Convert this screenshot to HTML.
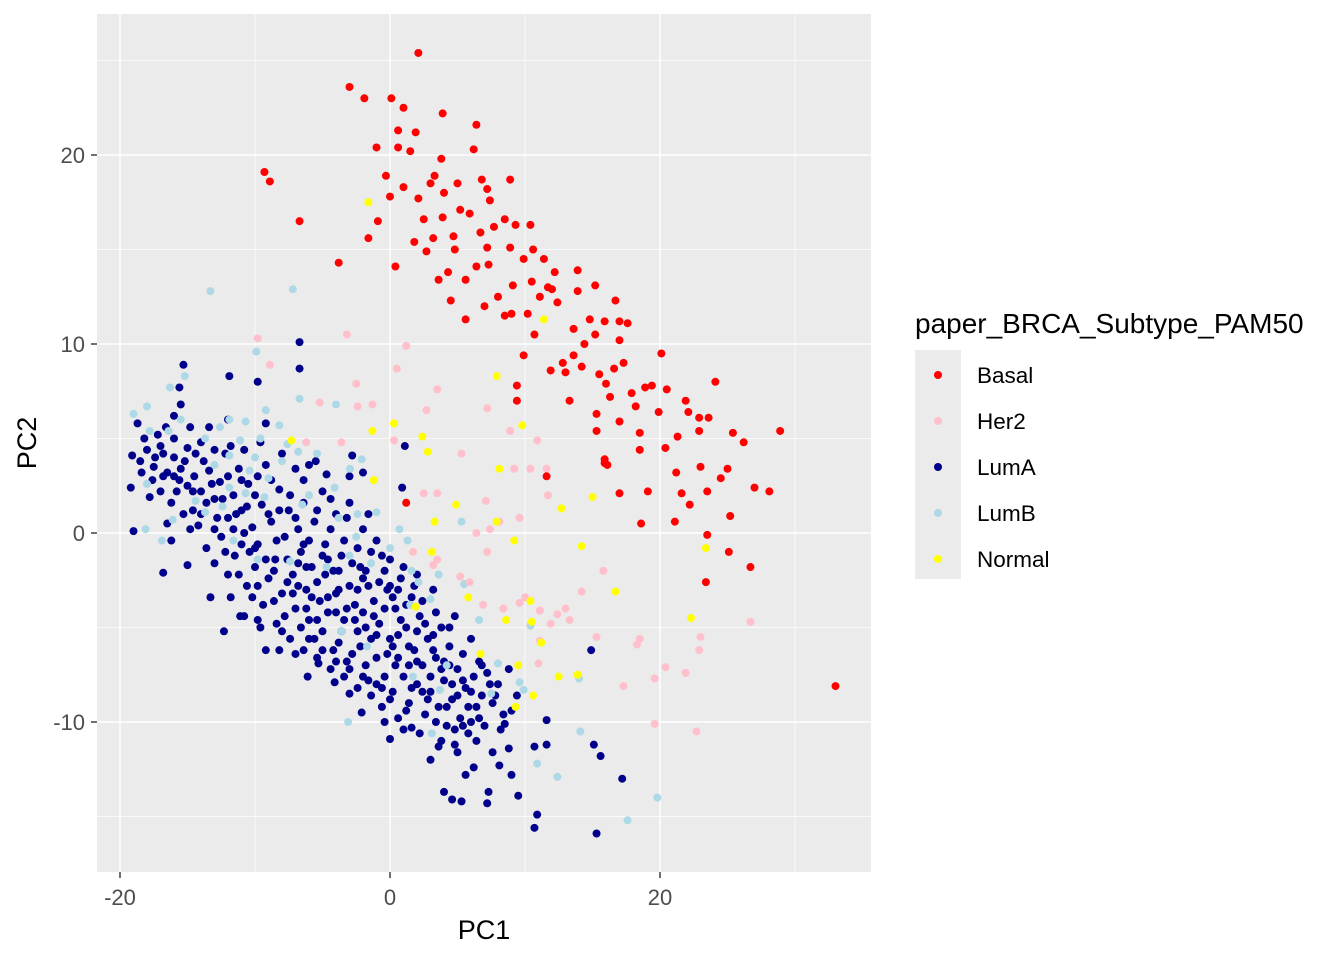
<!DOCTYPE html>
<html><head><meta charset="utf-8"><style>
html,body{margin:0;padding:0;background:#fff;}
svg{display:block;font-family:"Liberation Sans",Arial,sans-serif;}
</style></head><body>
<svg id="chart" width="1344" height="960">
<rect x="97" y="14" width="774" height="858" fill="#EBEBEB"/>
<g id="grid"></g>
<g id="points"></g>
<g id="axes"></g>
<text x="484" y="939" font-size="27" text-anchor="middle" fill="#000">PC1</text>
<text transform="translate(36,443) rotate(-90)" font-size="27" text-anchor="middle" fill="#000">PC2</text>
<g>
<text x="915" y="333" font-size="28" fill="#000">paper_BRCA_Subtype_PAM50</text>
<rect x="915" y="350" width="46" height="229" fill="#EBEBEB"/>
<g id="legend-entries"></g>
</g>
</svg>
<script>
const xTicks=[-20,0,20];
const xMinor=[-10,10,30];
const yTicks=[-10,0,10,20];
const yMinor=[-15,-5,5,15,25];
const categories=["Basal","Her2","LumA","LumB","Normal"];
const colors=["#FF0000","#FFC0CB","#00008B","#ADD8E6","#FFFF00"];
const basalPts=[[2.1,25.4],[-3.0,23.6],[-1.9,23.0],[0.1,23.0],[1.0,22.5],[3.9,22.2],[6.4,21.6],[1.9,21.2],[0.6,21.3],[-1.0,20.4],[0.6,20.4],[1.5,20.2],[3.8,19.8],[6.2,20.3],[-9.3,19.1],[-8.9,18.6],[-0.3,18.9],[3.3,18.9],[5.0,18.5],[6.8,18.7],[8.9,18.7],[7.2,18.2],[0,17.8],[2.1,17.7],[1.0,18.3],[3.0,18.5],[4.0,18.0],[7.4,17.6],[5.9,16.9],[5.2,17.1],[2.5,16.6],[3.9,16.7],[-0.9,16.5],[-6.7,16.5],[8.5,16.6],[9.3,16.3],[10.4,16.3],[7.7,16.2],[6.7,15.9],[4.7,15.7],[3.2,15.6],[1.8,15.4],[-1.6,15.6],[0.4,14.1],[-3.8,14.3],[2.7,14.9],[4.8,15.0],[7.2,15.1],[8.9,15.1],[10.6,15.0],[9.9,14.5],[11.4,14.5],[6.4,14.1],[4.3,13.8],[3.6,13.4],[5.6,13.4],[7.3,14.2],[9.1,13.1],[10.5,13.3],[12.2,13.8],[13.9,13.9],[11.7,13.0],[11.1,12.5],[12.4,12.2],[13.9,12.8],[15.2,13.1],[10.2,11.6],[8.5,11.5],[9.0,11.6],[5.6,11.3],[7.0,12.0],[4.5,12.3],[16.7,12.3],[14.8,11.3],[15.9,11.2],[17.0,11.2],[17.6,11.1],[13.6,10.8],[15.2,10.5],[17.0,10.2],[10.7,10.5],[9.9,9.4],[14.4,10.0],[13.6,9.4],[12.8,9.0],[11.9,8.6],[13.0,8.5],[14.2,8.8],[15.5,8.4],[16.6,8.7],[17.3,9.0],[20.1,9.5],[16.0,7.9],[17.9,7.4],[18.9,7.7],[19.4,7.8],[20.5,7.6],[24.1,8.0],[13.3,7.0],[16.3,7.2],[18.2,6.7],[19.9,6.4],[21.9,7.0],[22.1,6.4],[22.9,6.1],[23.6,6.1],[15.3,6.3],[17.0,5.9],[15.3,5.4],[18.5,5.3],[21.3,5.1],[22.9,5.4],[25.4,5.3],[26.2,4.8],[28.9,5.4],[20.4,4.5],[18.5,4.4],[15.9,3.9],[21.2,3.2],[23.0,3.5],[25.0,3.4],[11.6,3.0],[21.6,2.1],[23.5,2.2],[24.5,2.9],[27.0,2.4],[28.1,2.2],[17.0,2.1],[19.1,2.2],[22.2,1.5],[25.2,0.9],[18.6,0.5],[21.1,0.6],[23.5,-0.1],[25.1,-1.0],[26.7,-1.8],[23.4,-2.6],[33.0,-8.1],[1.2,1.6],[9.4,7.8],[9.4,7.0],[15.9,3.7],[16.1,3.6],[12.0,12.9],[8.0,12.5]];
const her2Pts=[[-9.8,10.3],[-3.2,10.5],[1.2,9.9],[-8.9,8.9],[0.5,8.7],[-2.5,7.9],[3.5,7.6],[7.2,6.6],[2.7,6.5],[-5.2,6.9],[-2.4,6.7],[-1.3,6.8],[8.9,5.4],[10.9,4.9],[-3.6,4.8],[-6.2,4.8],[0.3,4.9],[5.3,4.2],[9.2,3.4],[11.6,3.4],[10.4,3.4],[3.5,2.1],[2.5,2.1],[11.7,2.0],[9.6,0.8],[8.1,0.6],[7.4,0.2],[6.4,0],[7.2,-1.0],[1.7,-1.0],[3.2,-1.7],[5.9,-2.6],[6.9,-3.8],[9.6,-3.7],[11.1,-4.1],[12.4,-4.3],[13.3,-4.6],[14.2,-3.1],[11.9,-4.8],[15.3,-5.5],[18.5,-5.6],[18.3,-5.9],[23.0,-5.5],[22.9,-6.2],[20.4,-7.1],[21.9,-7.4],[19.6,-7.7],[17.3,-8.1],[19.6,-10.1],[22.7,-10.5],[26.7,-4.7],[15.8,-2.0],[7.1,1.7],[11.0,-6.9],[11.1,-5.7],[3.5,-1.4],[5.2,-2.3],[13.0,-4.0],[8.4,-4.0],[10.0,-3.4]];
const lumAPts=[[-15.3,8.9],[-11.9,8.3],[-15.6,7.7],[-9.8,8.0],[-6.7,8.7],[-15.5,6.8],[-18.7,5.8],[-16.6,5.6],[-19.1,4.1],[-19.2,2.4],[-19.0,0.1],[-16.8,-2.1],[-15.0,-1.7],[-13.3,-3.4],[-12.3,-5.2],[-11.1,-4.4],[-9.8,-4.6],[-9.2,-6.2],[-8.2,-6.2],[-6.1,-7.6],[-5.3,-6.9],[-4.1,-7.9],[-3.0,-8.5],[-2.1,-9.5],[0,-10.9],[1.6,-10.3],[3.6,-11.3],[4.8,-11.2],[4.0,-13.7],[4.6,-14.1],[5.3,-14.2],[5.6,-12.8],[7.3,-13.7],[8.1,-12.3],[9.0,-12.8],[9.5,-13.9],[10.7,-11.3],[11.6,-11.2],[10.9,-14.9],[10.7,-15.6],[15.3,-15.9],[15.1,-11.2],[15.6,-11.8],[17.2,-13.0],[14.9,-6.2],[8.8,-11.4],[8.5,-10.1],[11.6,-9.9],[0.9,2.4],[1.1,4.6],[-2.8,4.1],[-5.5,3.8],[-4.7,3.1],[-6.7,10.1],
[-18.5,3.8],[-18,4.4],[-17.5,3.5],[-17,4.6],[-16.5,3.2],[-16,4.0],[-15.5,3.4],[-15,2.5],[-17.8,1.9],[-17,2.2],[-16.2,1.6],[-15.6,2.8],[-15,4.5],[-14.5,3.0],[-14,2.2],[-14.6,1.2],[-15.3,1.0],[-16.5,0.5],[-14,4.8],[-14.2,0.4],[-13.6,-0.8],[-13,1.8],[-13.4,3.3],[-12.6,2.7],[-12.2,4.2],[-12,0.8],[-11.6,2.0],[-11.2,3.4],[-11,-0.6],[-12.5,-0.2],[-13,-1.6],[-12,-2.2],[-11.5,-1.2],[-11,1.2],[-10.5,2.6],[-10.2,0.3],[-10,-1.8],[-10.6,-2.8],[-9.8,-0.6],[-9.5,1.5],[-9.2,3.6],[-9,-2.4],[-8.8,0.6],[-8.5,-1.4],[-8.2,2.3],[-8,-3.2],[-7.8,-0.2],[-7.5,1.2],[-7.2,-2.2],[-7,-4.0],[-6.8,0.2],[-6.6,-1.0],[-6.4,2.8],[-6.2,-3.0],[-6,-4.6],[-5.8,-1.8],[-5.6,0.6],[-5.4,-2.6],[-5.2,-3.6],[-5,-5.2],[-4.8,-0.6],[-4.6,-4.2],[-4.4,1.8],[-4.2,-2.0],[-4,-3.2],[-3.8,-5.8],[-3.6,-1.2],[-3.4,-4.6],[-3.2,0.8],[-3,-2.8],[-2.8,-6.4],[-2.6,-3.8],[-2.4,-5.2],[-2.2,-1.8],[-2,-4.2],[-1.8,-7.0],[-1.6,-2.8],[-1.4,-5.6],[-1.2,-3.6],[-1,-6.6],[-0.8,-4.8],[-0.6,-1.2],[-0.4,-7.6],[-0.2,-3.0],[0,-5.6],[0.2,-8.4],[0.4,-4.0],[0.6,-6.6],[0.8,-2.4],[1,-7.6],[1.2,-5.0],[1.4,-9.0],[1.6,-3.4],[1.8,-6.2],[2,-8.0],[2.2,-4.4],[2.4,-7.0],[2.6,-9.6],[2.8,-5.6],[3,-8.4],[3.2,-3.0],[3.4,-6.6],[3.6,-9.2],[3.8,-5.0],[4,-7.8],[4.2,-10.2],[4.4,-6.0],[4.6,-8.8],[4.8,-4.4],[5,-7.2],[5.2,-9.8],[5.4,-6.4],[5.6,-8.2],[5.8,-10.6],[6,-5.6],[6.2,-7.6],[6.4,-9.2],[6.6,-6.8],[6.8,-8.6],[7,-10.2],[7.2,-7.4],[7.6,-9.0],[8,-8.0],[8.4,-9.6],[8.8,-7.2],[9.4,-8.6],[-17.2,5.2],[-16,5.0],[-14.8,5.6],[-13.8,3.8],[-10.8,4.4],[-9.6,4.8],[-8,4.2],[-7,3.4],[-6,3.6],[-5,2.2],[-4,1.0],[-3,1.6],[-2,0.2],[-1,-0.4],[0,-1.4],[1,-1.8],[2,-2.2],[-11.8,-3.4],[-10.8,-4.4],[-9.4,-3.8],[-8.4,-4.8],[-7.4,-5.6],[-6.4,-6.2],[-5.4,-6.6],[-4.4,-7.2],[-3.4,-7.6],[-2.4,-8.2],[-1.4,-8.6],[-0.6,-9.2],[0.6,-9.8],[-8.6,-2.0],[-7.6,-1.4],[-6.8,-2.8],[-5.8,-3.4],[-4.8,-2.2],[-3.8,-3.0],[-2.8,-1.6],[-1.8,-2.0],[-0.8,-2.6],[0.2,-3.4],[1.2,-3.8],[2.4,-3.6],[3.4,-4.2],[4.4,-5.0],[-6,-0.4],[-7,0.8],[-9,1.0],[-10,2.0],[-11,2.8],[-12,3.0],[-13,4.4],[-3.6,-5.2],[-2.2,-6.0],[-0.2,-6.4],[1.4,-7.0],[3,-7.6],[4.6,-8.0],[6,-8.4],[2.2,-10.6],[1,-10.4],[3.8,-11.0],[5,-11.6],[6.4,-11.0],[7.6,-11.6],[-1.6,1.0],[-3,3.0],[-2,3.2],
[-8.6,-3.6],[-7.8,-4.4],[-6.6,-5.0],[-5.6,-5.6],[-4.2,-6.2],[-3.2,-6.8],[-1.6,-7.8],[-0.6,-8.2],[0.4,-7.0],[1.6,-8.2],[2.8,-8.8],[4.2,-9.2],[5.4,-10.2],[-9.8,-2.8],[-10.4,-1.0],[-11.6,0.2],[-12.8,0.8],[-13.6,1.6],[-14.6,2.2],[-15.8,2.2],[-16.8,3.0],[-17.6,2.8],[-18.4,3.2],[-16.2,-0.4],[-14.8,0.2],[-7.2,-3.2],[-6.2,-1.8],[-5.0,-1.2],[-4.0,-4.2],[-2.6,-4.6],[-1.2,-4.4],[0.6,-5.4],[2.0,-5.2],[3.2,-6.2],[4.0,-6.8],[5.4,-7.8],[6.8,-7.0],[7.8,-8.6],[-0.4,-10.0],[3.0,-12.0],[6.2,-12.4],[7.2,-14.3],[-9.2,5.8],[-12.0,6.0],[-8.8,2.8],
[-18.2,5.0],[-17.4,4.0],[-16.8,4.2],[-16.0,3.0],[-15.2,3.8],[-14.4,4.2],[-13.2,2.6],[-12.4,1.8],[-11.4,1.0],[-10.8,0.0],[-10.0,-0.8],[-9.2,-1.4],[-8.4,-0.4],[-7.6,-2.6],[-6.8,-1.6],[-6.2,-4.0],[-5.4,-4.6],[-4.6,-3.4],[-3.8,-2.0],[-3.2,-4.0],[-2.4,-3.0],[-1.8,-5.0],[-1.0,-5.4],[-0.4,-4.0],[0.2,-6.0],[0.8,-4.6],[1.4,-6.0],[2.0,-6.8],[2.6,-4.8],[3.2,-5.4],[3.8,-7.2],[4.4,-7.0],[5.0,-8.6],[5.8,-9.2],[6.6,-9.8],[7.4,-8.0],[8.2,-10.4],[9.0,-9.4],[-14.0,1.0],[-13.0,0.2],[-12.2,-1.0],[-11.2,-2.2],[-10.2,-3.4],[-9.6,-5.0],[-8.0,-5.2],[-7.0,-6.4],[-6.0,-5.6],[-5.0,-6.2],[-4.0,-6.8],[-3.0,-7.2],[-2.0,-7.6],[-1.0,-8.0],[0.0,-8.8],[1.2,-9.4],[2.4,-8.4],[3.4,-10.0],[4.8,-10.4],[6.0,-10.0],[-7.4,2.0],[-6.4,1.6],[-5.4,1.2],[-4.4,0.2],[-3.4,-0.4],[-2.4,-0.8],[-1.4,-1.0],[-0.4,-2.0],[0.6,-3.0],[1.8,-2.8],[-9.8,3.0],[-11.8,4.6],[-13.4,5.6],[-16.0,6.2],[-10.6,1.4],[-8.2,1.2],[-6.4,-0.6],[-4.6,-1.4],[-2.0,-2.4],[0.0,-2.8]];
const lumBPts=[[-13.3,12.8],[-7.2,12.9],[-9.9,9.6],[-15.2,8.3],[-16.3,7.7],[-6.7,7.1],[-19.0,6.3],[-18.0,6.7],[-15.5,6.0],[-11.9,6.0],[-10.7,5.9],[-9.2,6.5],[-8.2,5.7],[-4.0,6.8],[-17.8,5.4],[-16.4,5.4],[-13.7,5.0],[-11.1,4.9],[-9.6,5.0],[-7.6,4.7],[-6.8,4.3],[-11.9,4.1],[-13.0,3.6],[-10.4,3.3],[-9.0,2.9],[-5.4,4.2],[-2.96,3.4],[-2.1,3.9],[-18.0,2.6],[-11.9,2.4],[-10.7,2.1],[-9.3,1.9],[-4.1,2.4],[-16.1,0.7],[-13.7,1.1],[-18.1,0.2],[-16.9,-0.4],[-11.6,-0.4],[-6.5,1.5],[-3.8,0.8],[-2.4,1.0],[-1.0,1.1],[0.7,0.2],[1.3,-0.4],[5.3,0.6],[-2.5,-0.2],[0,-0.8],[1.6,-2.0],[5.5,-2.7],[-3.0,-1.2],[-4.7,-1.8],[-7.4,-1.5],[2.1,-2.6],[3.0,-3.5],[1.5,-3.8],[6.6,-4.6],[10.4,-4.9],[8.0,-6.9],[7.5,-8.5],[9.6,-7.9],[14.0,-7.7],[9.9,-8.3],[-3.1,-10.0],[3.1,-10.6],[14.1,-10.5],[10.9,-12.2],[12.4,-12.9],[19.8,-14.0],[17.6,-15.2],[1.7,-7.6],[3.7,-8.3],[-1.7,-6.0],[-3.6,-5.2],[-9.8,-1.4],[-12.4,1.4],[-14.4,1.7],[-8.0,3.8],[-12.6,5.6],[-10.0,4.0],[-6.0,2.0],[-1.4,-1.6],[3.6,-2.2],[4.2,-7.0]];
const normalPts=[[-1.6,17.5],[11.4,11.3],[7.9,8.3],[0.3,5.8],[-1.3,5.4],[-7.3,4.9],[2.4,5.1],[2.8,4.3],[9.8,5.7],[8.1,3.4],[-1.2,2.8],[4.9,1.5],[12.7,1.3],[15.0,1.9],[3.3,0.6],[7.9,0.6],[9.2,-0.4],[14.2,-0.7],[23.4,-0.8],[3.1,-1.0],[16.7,-3.1],[10.4,-3.6],[5.8,-3.4],[1.9,-3.9],[10.5,-4.7],[8.6,-4.6],[22.3,-4.5],[11.2,-5.8],[6.7,-6.4],[9.5,-7.0],[12.5,-7.6],[13.9,-7.5],[10.6,-8.6],[9.3,-9.2]];

const NS="http://www.w3.org/2000/svg";
function xs(v){return 390+v*13.5;}
function ys(v){return 533-v*18.9;}
const grid=document.getElementById('grid');
function line(x1,y1,x2,y2,w,parent,name){
  const l=document.createElementNS(NS,'line');
  l.setAttribute('x1',x1);l.setAttribute('y1',y1);l.setAttribute('x2',x2);l.setAttribute('y2',y2);
  l.setAttribute('stroke','#fff');l.setAttribute('stroke-width',w);
  
  
  parent.appendChild(l);return l;
}
xMinor.forEach(v=>line(xs(v),14,xs(v),872,0.7,grid,'x-minor-gridline'));
yMinor.forEach(v=>line(97,ys(v),871,ys(v),0.7,grid,'y-minor-gridline'));
xTicks.forEach(v=>line(xs(v),14,xs(v),872,1.4,grid,'x-major-gridline'));
yTicks.forEach(v=>line(97,ys(v),871,ys(v),1.4,grid,'y-major-gridline'));
const axes=document.getElementById('axes');
xTicks.forEach(v=>{
  const t=document.createElementNS(NS,'line');
  t.setAttribute('x1',xs(v));t.setAttribute('x2',xs(v));t.setAttribute('y1',872);t.setAttribute('y2',878);
  t.setAttribute('stroke','#333');t.setAttribute('stroke-width',1.4);
  
  
  axes.appendChild(t);
  const s=document.createElementNS(NS,'text');
  s.setAttribute('x',xs(v));s.setAttribute('y',905);s.setAttribute('font-size','22');
  s.setAttribute('text-anchor','middle');s.setAttribute('fill','#4D4D4D');
  s.textContent=v;
  
  
  axes.appendChild(s);
});
yTicks.forEach(v=>{
  const t=document.createElementNS(NS,'line');
  t.setAttribute('x1',91);t.setAttribute('x2',97);t.setAttribute('y1',ys(v));t.setAttribute('y2',ys(v));
  t.setAttribute('stroke','#333');t.setAttribute('stroke-width',1.4);
  
  
  axes.appendChild(t);
  const s=document.createElementNS(NS,'text');
  s.setAttribute('x',85);s.setAttribute('y',ys(v)+8);s.setAttribute('font-size','22');
  s.setAttribute('text-anchor','end');s.setAttribute('fill','#4D4D4D');
  s.textContent=v;
  
  
  axes.appendChild(s);
});
const pg=document.getElementById('points');
const seriesOrder=[[2,lumAPts],[3,lumBPts],[1,her2Pts],[4,normalPts],[0,basalPts]];
seriesOrder.forEach(([ci,pts])=>{
  pts.forEach(p=>{
    const c=document.createElementNS(NS,'circle');
    c.setAttribute('cx',xs(p[0]));c.setAttribute('cy',ys(p[1]));c.setAttribute('r',4);
    c.setAttribute('fill',colors[ci]);
    
    
    pg.appendChild(c);
  });
});
const lg=document.getElementById('legend-entries');
categories.forEach((cat,i)=>{
  const y=375+i*46;
  const c=document.createElementNS(NS,'circle');
  c.setAttribute('cx',938);c.setAttribute('cy',y);c.setAttribute('r',4);c.setAttribute('fill',colors[i]);
  
  
  lg.appendChild(c);
  const t=document.createElementNS(NS,'text');
  t.setAttribute('x',977);t.setAttribute('y',y+8);t.setAttribute('font-size','22.5');t.setAttribute('fill','#000');
  t.textContent=cat;
  
  
  lg.appendChild(t);
});
</script>
</body></html>
